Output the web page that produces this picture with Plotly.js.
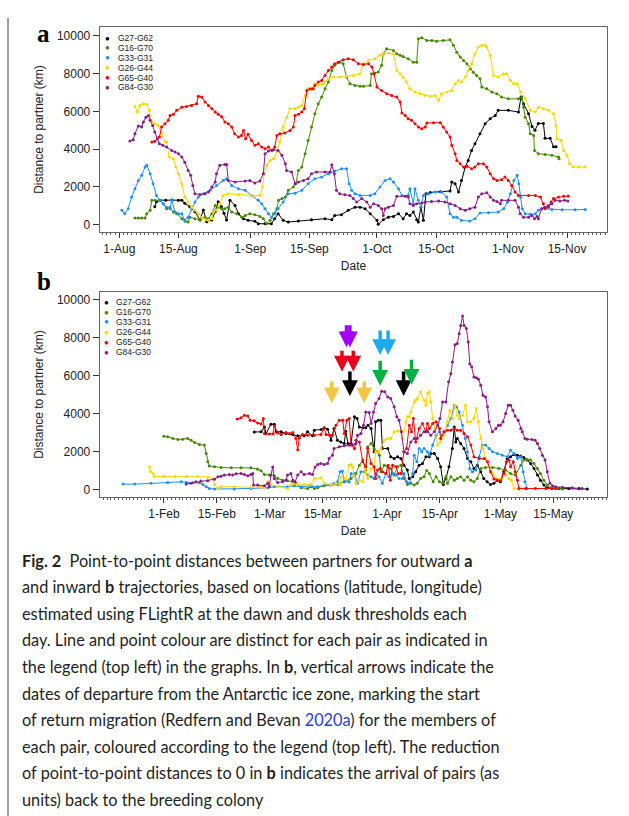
<!DOCTYPE html>
<html><head><meta charset="utf-8">
<script src="https://cdn.plot.ly/plotly-3.0.1.min.js"></script>
<style>html,body{margin:0;padding:0;background:#fff}#chart{width:629px;height:816px}</style>
</head><body><div id="chart"></div>
<script>
// ---------- legend / pairs ----------
const pairNames = ['G27-G62','G16-G70','G33-G31','G26-G44','G65-G40','G84-G30'];
const pairColors = ['#000000','#458B00','#1E90FF','#FFD700','#FF0000','#8B1A8B'];

// ---------- panel a (outward), day offsets from 1 Aug ----------
const aBlackDay = [8.4,8.8,9.6,11,12.5,14,14.8,15.5,16.7,17.9,19.1,19.9,20.7,21.9,22.7,23.4,24.2,24.8,25.4,26.2,27.4,28.2,29.4,30.5,32.1,32.9,34.5,36,36.8,37.6,38.8,40,42.4,45.5,48.7,50.3,51,52.6,54.2,55.8,57,58.2,59.4,61,61.3,62.5,63.7,64.9,66.1,67.2,68,68.8,69.6,70.4,70.8,71.4,72,72.6,73.6,76,78.3,78.7,79.5,80.3,81,81.9,82.6,83.4,84.2,85.4,86.6,87.8,89,89.7,92.1,94.5,95.1,95.7,96.9,97.7,98.4,99.2,100.4,100.8,102,102.8,103.4];
const aBlackKm  = [950,1220,1300,1300,1310,1300,1300,1130,950,690,250,780,160,250,690,1220,950,600,250,1290,1020,580,320,230,180,50,50,50,320,580,230,140,190,260,320,260,490,530,760,930,930,850,580,230,20,260,400,440,580,320,580,490,670,260,140,930,230,1640,1710,1750,1780,2260,2170,1730,2340,3050,3400,3930,4280,4810,5340,5610,5780,6050,6050,5960,6750,6400,5870,5200,5000,5360,5360,4570,4570,4130,4130];

const aGreenDay = [3.7,4.5,5.3,6.1,6.5,7.3,7.7,8.5,9.6,10.4,11.2,12,12.8,13.6,14.8,15.6,16.3,16.7,17.9,19.1,20.3,21.1,21.9,22.7,23.4,24.2,25,25.8,26.6,27.8,29,29.8,30.9,32.1,33.3,34.1,34.9,35.7,36.5,37.3,37.7,38.5,39.3,40,41.2,41.8,42.4,43.2,44,44.7,45.5,46.3,47.1,47.9,48.7,49.5,50.3,51,52.2,53,53.8,54.6,55.8,57,57.8,59.4,59.7,60.5,61.3,62.1,62.5,63.3,64.9,65.7,66.5,67.2,68.4,69.6,70.4,70.8,71.6,72.8,74,75.1,76.7,78.3,79.1,79.9,80.7,81.5,82.3,83.1,83.8,84.6,85.4,85.8,87,88.2,89.4,90.5,92.1,94.5,95.3,95.7,96.1,96.9,97.3,98.1,98.3,99.2,100.8,102.4,104,104.1];
const aGreenKm  = [350,350,350,350,580,760,1290,1290,1290,1110,850,930,670,580,320,180,140,400,320,260,400,320,580,1020,930,850,850,930,670,580,400,490,580,530,440,320,50,230,580,850,1290,1380,1460,1820,1990,2170,2870,3050,3760,4460,5170,5870,6400,6750,7190,7550,8160,8430,8600,8520,7810,7460,7370,7320,7320,7370,7990,8020,8080,8430,9040,9310,9220,9040,8960,8900,8780,8600,8600,9840,9890,9750,9750,9710,9750,9780,9490,9130,8870,8690,8520,8250,8070,7900,7720,7280,7190,7020,6930,6750,6660,6660,6750,6220,5690,5340,4810,4720,3930,3760,3720,3670,3580,3490];

const aBlueDay = [0.6,1.3,2.1,2.9,3.7,4.5,5.3,6.1,6.5,7.3,8,8.8,9.6,10.4,11.2,12,12.4,13.2,14,14.8,15.5,16.3,17.1,17.9,18.7,19.9,21.5,23,24.6,25.4,26.6,28.2,29.8,31.3,32.9,33.7,34.5,35.3,36.1,36.8,37.6,38.8,40,41.6,43.2,44.7,46.3,47.9,49.5,51,52.6,53.8,54.4,55,55.8,57,59.4,60.5,61.7,62.9,64.1,64.9,66.1,66.9,68.4,68.8,69.6,70,70.8,71.4,72,73.2,74.8,76.3,77.5,78.3,79.1,79.9,81,83,84.2,85.4,87.4,89.7,91,91.9,92.6,93.4,94.2,94.6,95,95.4,96.1,97.3,98.5,99.2,100,102.4,104.8,107.9,110.3];
const aBlueKm  = [760,580,850,1460,1900,2340,2610,3050,3140,2700,2170,1550,1290,1110,930,850,1290,670,580,580,230,400,850,1200,1460,1640,1820,2080,2340,2430,2080,1900,1820,1550,1290,1110,850,580,400,580,850,1200,1640,1670,1820,2170,2430,2520,2700,2840,2960,2960,2170,1820,1640,1550,1550,1640,1990,2340,2430,2260,1900,1550,1550,1900,1110,1900,1290,930,1550,1640,1730,1730,1460,580,400,400,230,190,320,620,630,670,850,1200,1640,2340,2610,2170,1460,850,580,550,580,760,850,810,790,790,810];

const aYellowDay = [3.7,4.3,4.9,5.7,6.5,7.1,7.7,8.4,9.2,10,10.8,11.2,11.8,12.8,13.4,14,14.8,15.5,16.3,17.1,17.9,18.7,19.5,20.3,21.1,21.9,22.3,23,23.8,24.6,25.8,28.2,31.3,33.3,33.9,34.3,34.9,35.7,36.5,37.3,38,38.8,39.6,40.4,41.6,42.4,43.2,44,44.6,45.4,46.2,47.1,48.3,49.5,50.7,52.2,53.8,55.4,57,57.8,59,60.5,61.7,62.5,63.7,64.9,65.7,66.5,67.2,68,68.8,70,71.2,72.4,73.6,74.8,75.6,76.3,77.5,78.7,79.5,80.3,81,81.9,82.6,83.4,84.2,85,85.8,86.6,87,87.8,88.6,89.7,91,91.7,92.6,93.4,94.2,95,96.1,97.3,98.5,99.2,100.4,101.6,102.8,103.4,103.6,104.6,105.2,106,106.6,107.5,108.7,110.3];
const aYellowKm  = [6260,5960,6310,6400,6360,6050,5430,5340,5250,4810,4370,4370,3580,3490,3050,2700,2170,1460,1200,930,760,580,400,260,230,320,670,760,1110,1550,1640,1590,1550,1550,1990,2700,3140,3400,3490,3840,4370,5170,5690,6140,6140,6220,6310,6840,7190,7140,7460,7370,7460,7720,7810,7810,7850,7900,7990,8520,8690,8780,8960,9040,9080,9040,8160,7990,7810,7550,7190,7020,6930,6840,6790,6840,6580,6930,7020,7100,7460,7630,7550,7810,8160,8520,9040,9400,9490,9490,9400,8960,7900,7810,7990,7990,7630,7460,7460,7020,6660,6050,5960,6220,6140,6050,5870,5250,4550,4460,3930,3670,3230,3050,3050,3050];

const aRedDay = [7.7,8.4,9.5,10,10.8,11.6,12,12.8,13.6,14.8,15.9,17.1,18.3,18.7,19.5,20.3,21.1,21.9,22.7,23.4,24.2,25,25.8,26.6,27.3,28.2,28.9,29.4,29.9,30.5,31.3,32.1,32.9,33.7,34.5,35.3,36.1,36.8,37.3,38,39.2,40.4,41.2,41.6,42.4,43.2,43.8,44.4,45.2,45.9,46.3,47.1,47.9,48.7,49.5,50.3,51,51.8,53,54.2,55.4,56.6,57.8,59,59.8,60.3,61,62.1,63.3,64.5,65.7,66.5,66.9,67.7,68.4,69.2,70,70.8,71.6,72.4,72.8,74.4,76,76.7,77.5,78.3,78.7,79.5,79.9,80.7,81.5,82.3,83.4,84.2,85,86.2,87,87.8,88.6,89.4,90.5,91.3,92.1,92.9,93.7,94.5,96.9,98.5,99.7,100.4,100.8,101.6,102.2,102.8,104,105.2,106.3];
const aRedKm  = [4370,4410,4640,5170,5340,5520,5780,5840,6050,6220,6260,6310,6400,6790,6750,6490,6310,6140,5960,5840,5730,5430,5340,5170,4810,4640,4720,4990,4550,4780,4460,4200,4280,4110,4020,4110,3930,4110,4720,4810,4850,4990,5170,5780,5840,5960,6140,7100,7190,7190,7370,7550,7630,7900,8160,8340,8520,8600,8730,8780,8730,8520,8480,8520,8340,7990,7280,7100,6930,6840,6750,6490,5910,5780,5610,5520,5340,5170,5080,5170,5380,5400,5400,5170,4900,4640,4200,3760,3400,3230,3050,3090,2960,3050,3230,3230,3050,2700,2430,2340,2380,2520,2340,2080,1730,1550,1550,1550,1460,1110,850,930,1200,1380,1460,1500,1520];

const aPurpleDay = [2.5,3.3,3.7,4.5,5.3,5.7,6.3,6.9,7.3,7.9,8.4,9,9.5,10.3,11.2,12.4,13.2,14,14.8,15.5,16.3,16.9,17.4,17.9,19.1,20.3,21.1,21.9,22.7,23,23.8,25,25.4,25.8,27.4,29.8,30.9,32.1,33.3,34.1,34.5,35.3,36.5,37.6,38.5,39.3,39.6,40.8,41.6,42.4,43.6,44.7,45.5,46.7,48.7,49.9,50.3,50.9,51.4,52.2,53.4,54.6,55.4,56.2,57.4,58.6,59.4,60.2,61.3,62.1,62.5,62.9,63.7,64.9,65.7,67.7,68.4,68.8,69.6,70.4,71.6,72.4,73.9,75.6,77.1,78.3,79.5,80.7,81.9,83,84.2,85,85.8,87,87.8,88.6,89.4,90.2,90.5,92.1,93.7,94.5,94.9,95.7,96.9,97.7,98.3,98.9,99.2,100,100.8,101.6,102.4,103.2,104.3,105.4,106.2];
const aPurpleKm  = [4430,4500,4810,5220,5170,5430,5690,5780,5520,5250,4900,4550,4280,4200,4110,3930,3840,3760,3580,3310,2870,2610,2080,1640,1600,1640,1730,1990,2260,2700,3140,3190,3190,2340,2260,2310,2340,2200,2310,2700,3760,3900,3970,3930,3670,3230,2870,2790,2170,2260,2340,2430,2700,2790,2790,2790,3170,2700,1820,1640,1590,1550,1380,1200,1380,1200,930,1110,1020,850,490,850,930,1020,1500,1500,1460,1110,1020,1110,1150,1200,1230,1250,1200,1110,1020,850,760,850,930,1460,1640,1690,1460,1290,1230,1110,1290,1290,1290,930,580,400,400,490,320,440,320,850,930,1020,1110,1290,1250,1290,1250];

// ---------- panel b (inward), day offsets from 1 Feb ----------
const bBlackDay = [23.9,25.7,26.6,27,28.3,29.2,29.7,31,32.3,34.1,35.4,37.1,38,39.3,39.8,41.6,42.4,43.3,44.2,45,45.9,46.8,47.7,48.1,48.7,49.5,50.4,51.1,51.7,52.6,53.4,54,54.8,55.6,56,56.7,57.4,57.8,59.2,60,60.9,61.8,62.7,63.5,64.4,64.9,65.8,66.6,67.5,68.4,69.3,70.2,70.6,71.5,72.4,73.2,73.9,74.6,75.4,76.3,76.8,77.2,77.6,78.5,79.4,80.3,81.2,82,82.9,83.8,84.6,85.5,86.4,87.3,88.2,89,89.9,90.8,91.7,92.6,93.5,94.4,95.2,96.1,97,97.9,98.8,99.6,100.5,101.4,102.7,104.4,107.1,109.8,112];
const bBlackKm  = [3030,3040,3300,2950,3440,3440,3040,3040,2950,2900,2830,2830,3040,2830,3130,3160,3250,3180,2600,3220,2600,2510,2420,3070,2420,2420,3830,3740,3300,3250,3250,3390,3220,1990,3570,3650,3650,2160,2160,1720,1630,1720,1630,1280,1020,580,670,930,1280,1370,1720,1720,1900,1900,1630,1200,260,580,1200,2160,3300,2510,2690,2420,2160,1630,1460,1110,1280,930,580,400,260,320,490,400,930,1630,1720,1840,1810,1760,1690,1550,1370,1110,760,490,230,90,50,50,50,50,20];

const bGreenDay = [0,1,2.4,3.7,5,6.3,7.2,8.1,9.4,10.7,11.2,11.6,12,13.4,15.1,17.8,20.4,23,24.8,25.7,26.6,27.9,29.2,30.1,31.4,32.7,34.1,35,36.3,38,38.9,39.8,40.7,42.4,44.2,46,47.7,49.5,50.8,51.7,52.6,53.4,53.9,54.8,55.6,56.5,57,57.4,58.3,59.2,60,60.9,61.8,62.7,63.5,64.4,65.3,66.2,67,67.9,68.8,69.5,70.2,71.2,72,72.9,73.7,74.6,75,75.9,76.8,77.6,78.5,79.4,80.3,81.2,82,82.9,83.8,85.1,86.9,88.6,90.4,91.7,93,94.4,95.2,96.1,97,97.9,98.8,99.6,100.5,101.4,102.3,103.6,105.4];
const bGreenKm  = [2810,2780,2690,2640,2650,2690,2600,2480,2370,2340,1900,1460,1230,1200,1160,1140,1140,1140,1070,980,790,760,720,580,490,460,400,320,90,50,140,50,90,190,230,260,400,580,840,1280,1550,1020,2250,2420,2160,1990,1810,930,1280,1200,1110,760,1200,1280,580,260,320,230,320,580,670,1000,840,400,670,400,320,670,320,670,490,580,670,490,670,490,400,580,1110,1160,1160,1110,1020,840,760,1280,1550,1580,1550,1370,1110,840,490,230,90,50,20];

const bBlueDay = [-10.8,-7.7,-3.4,1,4.6,5.9,7.7,9.4,10.3,11.2,12,13.4,18.6,23,27.5,29.2,32.7,34.5,36.3,38.9,40.7,42.4,44.2,45,45.9,46.6,47.2,47.7,49,49.5,50.4,51.2,52.1,53,53.9,54.8,55.6,56,56.9,57.8,58.7,59.5,60.5,61.4,62.2,63.1,63.5,64.2,64.9,65.8,66.2,66.9,67.5,68.2,68.8,69.7,70.2,71.1,72,72.9,73.7,74.1,75,75.9,76.8,77.4,78.1,79,79.7,80.3,80.9,81.6,82.5,83.4,84.2,85.1,86,86.9,88.2,89.5,90.8,91.7,92.6,93.5,94.4,95,95.5,96];
const bBlueKm  = [280,280,320,370,400,370,370,350,260,140,50,20,20,50,90,140,140,190,140,190,140,230,260,320,400,930,970,400,400,840,840,320,930,930,760,670,580,840,670,320,840,670,840,760,580,580,840,400,320,840,1810,1460,2160,1990,2160,1990,1810,2340,2860,3040,2860,3040,3390,3740,4450,4360,4090,3390,2690,1990,1110,930,1020,1720,2340,2340,2160,1990,1900,1810,1720,2070,1900,1630,1720,930,400,50];

const bYellowDay = [-3.8,-3.5,-2.9,-2.5,0,3,6,9,11.6,12.9,13.4,14.3,15.1,18.6,23,25.7,26.6,27.5,28.3,30.5,32.7,33.6,35.4,37.1,38.9,39.8,41.5,42.4,44.2,45.5,46.6,46.8,48.1,49,49.5,49.9,50.8,51.7,52.6,53.2,53.9,54.8,55.6,56,56.9,57.4,58.3,59.2,60,60.9,61.8,62.7,63.1,64,64.4,64.9,65.3,66.2,66.6,67,67.9,68.8,69.3,69.7,70.2,70.6,71.1,71.7,72.4,73.2,74.1,75,75.6,76.3,77,77.6,78.1,79,79.8,80.3,81.2,82,82.6,83.2,83.8,84.4,85.1,85.9,86.9,87.8,88.6,89.5,90.4,91.3,91.9,92.6,93.9];
const bYellowKm  = [1180,950,830,680,680,680,680,680,660,560,250,70,140,140,110,140,70,420,230,160,35,250,300,260,260,580,610,320,260,320,230,670,580,1280,1320,1190,320,490,400,1110,580,1110,1190,1990,1990,2160,2600,2690,2690,3040,3070,3130,2690,3570,3830,3830,4090,4620,4710,4800,5150,4710,4450,5060,5150,4620,3740,3220,2340,2510,2860,3570,4180,3740,4450,3920,3740,3920,4450,3570,3570,3740,4270,3570,2690,2160,1630,1190,840,580,530,580,790,580,490,50,20];

const bRedDay = [19.4,20.4,21.3,22.2,22.8,23.9,24.8,25.7,26.3,26.6,27.9,28.9,29.2,30.1,31,32.3,33.2,34.1,34.9,35.4,35.8,36.7,38,39.8,41.5,42.4,42.9,43.9,44.6,45.5,46.4,47.3,47.7,48.4,49,49.5,50.4,50.8,51.7,52.6,53.4,53.9,54.8,55.6,56,56.5,57.2,57.8,58.7,59.3,59.9,60.5,61.4,62,62.7,63.5,64.2,64.9,65.5,66,66.6,67.5,68.4,69.3,69.7,70.2,71.1,72,72.9,73.2,74.1,75,75.9,76.8,77.6,78.5,79.4,80.3,81.2,82,83.4,84.7,85.6,86.4,87.3,88.2,89,89.9,90.6,91.3,91.7,92.4,92.9,93.5,93.9,95.7,98.3,101,103.6];
const bRedKm  = [3720,3780,3910,3870,3650,3620,3500,3460,3740,2950,2920,2940,3350,2980,2900,3000,2950,3000,2690,2090,2710,2900,2860,2860,2900,3220,2900,2860,2860,3390,3650,3650,2950,3650,3740,2340,2160,2600,2510,1460,1200,2160,1370,1200,580,1020,1110,930,840,1280,490,1280,1200,840,840,1990,2160,3390,3040,3740,2510,3220,3480,3040,3480,3220,3480,3570,3220,2690,3040,3130,3130,3220,3130,3130,2950,2780,2340,1720,1630,1630,1460,930,550,490,460,840,1460,1550,1200,1460,930,490,50,50,50,50,50];

const bPurpleDay = [5.9,7.2,8.5,9.8,11.6,13.4,14.3,15.1,16,17.3,18.2,19.1,20.4,21.3,22.2,23,23.5,23.7,24.8,26.6,27.5,27.9,28.3,28.8,29.2,30.1,31.4,32.3,32.7,33.6,34.1,34.7,35.4,36.3,37.1,38.5,39.3,40,40.7,41.5,42.4,43.3,43.7,44.6,45,46.4,47.7,49,49.9,50.8,51.2,52.1,52.8,53.4,54.3,54.8,55.4,56,56.9,57.6,58.4,59.2,60,60.9,61.6,62.2,62.8,63.5,64.4,65.3,66.2,67,67.9,68.8,69.7,70.6,71.5,72.4,73,73.7,74.6,75.3,75.9,76.3,77,77.6,78.1,78.5,79,79.4,80,80.5,80.9,81.4,82,82.6,83.2,83.8,84.4,85.1,85.6,86,86.9,87.8,88.5,89,89.7,90.4,91.1,91.7,92.3,92.9,93.7,94.4,94.8,95.5,96.1,97.3,98.2,98.8,99.4,100.1,100.8,101.4,102.1,102.8,103.6,105.4,108,110.6];
const bPurpleKm  = [280,320,400,440,460,540,670,700,760,790,760,830,840,790,720,790,840,230,230,190,320,140,760,1190,580,370,400,490,760,840,490,400,760,930,790,840,790,1190,1320,1370,1320,1370,1630,1810,2160,2250,2300,2340,2340,2420,2860,2950,3390,4090,4060,3480,4090,4530,4800,5180,5150,4880,4800,4360,3830,3650,3040,1990,1900,2510,2690,2690,2860,3040,3070,2860,3040,3390,3740,4620,4620,5680,6110,6730,7640,7700,8220,8660,9150,8660,8490,7780,6640,6470,5940,5890,5820,5500,4970,4880,4360,3570,3040,3220,3390,3390,3570,4010,4450,4450,4180,3880,3650,3220,3040,2690,2650,2640,2600,2420,2160,1810,1550,930,320,190,140,110,90,50];

// ---------- departure arrows in panel b ----------
const arrowDay   = [44.4,47.1,48.3,49.2,49.2,50.1,53.0,57.2,57.2,59.3,63.4,65.5];
const arrowColor = ['#F2C744','#E8001C','#A500FF','#A500FF','#000000','#E8001C','#F2C744','#00B040','#1EAAF0','#1EAAF0','#000000','#00B040'];
const arrowTipKm = [4550,6220,7510,7510,4930,6220,4550,5470,7100,7100,4930,5520];
const arrowTopKm = [5780,7400,8740,8740,6310,7400,5780,6870,8470,8470,6310,6920];

const aTickLabels = ['1-Aug','15-Aug','1-Sep','15-Sep','1-Oct','15-Oct','1-Nov','15-Nov'];
const aTickDays   = [0,14,31,45,61,75,92,106];
const bTickLabels = ['1-Feb','15-Feb','1-Mar','15-Mar','1-Apr','15-Apr','1-May','15-May'];
const bTickDays   = [0,14,28,42,59,73,89,103];
const yTicks = [0,2000,4000,6000,8000,10000];
const yTickLabels = ['0','2000','4000','6000','8000','10000'];

// ---------- helpers ----------
const DAY = 86400000;
const baseA = Date.UTC(2018,7,1), baseB = Date.UTC(2019,1,1);
function toDate(base, d){ return new Date(base + d*DAY).toISOString().slice(0,19).replace('T',' '); }
const FONT = 'Liberation Sans, Arial, sans-serif';
const W = 629, H = 816;
const px = v => v / W, py = v => 1 - v / H;

const aSeries = [[aBlackDay,aBlackKm],[aGreenDay,aGreenKm],[aBlueDay,aBlueKm],[aYellowDay,aYellowKm],[aRedDay,aRedKm],[aPurpleDay,aPurpleKm]];
const bSeries = [[bBlackDay,bBlackKm],[bGreenDay,bGreenKm],[bBlueDay,bBlueKm],[bYellowDay,bYellowKm],[bRedDay,bRedKm],[bPurpleDay,bPurpleKm]];

const traces = [];
aSeries.forEach((s,i)=>traces.push({type:'scatter',mode:'lines+markers',x:s[0].map(d=>toDate(baseA,d)),y:s[1],xaxis:'x',yaxis:'y',
  line:{color:pairColors[i],width:1},marker:{color:pairColors[i],size:3},showlegend:false,hoverinfo:'skip'}));
bSeries.forEach((s,i)=>traces.push({type:'scatter',mode:'lines+markers',x:s[0].map(d=>toDate(baseB,d)),y:s[1],xaxis:'x2',yaxis:'y2',
  line:{color:pairColors[i],width:1},marker:{color:pairColors[i],size:3},showlegend:false,hoverinfo:'skip'}));

function xAxis(base, ticks, labels, lo, hi, anchor){
  return {type:'date',domain:[px(100),px(607)],anchor:anchor,range:[toDate(base,lo),toDate(base,hi)],
    tickmode:'array',tickvals:ticks.map(d=>toDate(base,d)),ticktext:labels,ticks:'outside',ticklen:5,tickcolor:'#333',
    tickfont:{family:FONT,size:12,color:'#222'},showline:true,mirror:true,linecolor:'#666',linewidth:1.3,
    showgrid:false,zeroline:false,
    minor:{dtick:DAY,tick0:toDate(base,0),ticks:'outside',ticklen:2,tickcolor:'#555',showgrid:false},
    title:{text:'Date',font:{family:FONT,size:12,color:'#222'},standoff:7}};
}
function yAxis(dom, lo, hi, anchor){
  return {domain:dom,anchor:anchor,range:[lo,hi],tickmode:'array',tickvals:yTicks,ticktext:yTickLabels,ticks:'outside',ticklen:6,tickcolor:'#333',
    tickfont:{family:FONT,size:12,color:'#222'},showline:true,mirror:true,linecolor:'#666',linewidth:1.3,
    showgrid:false,zeroline:false,title:{text:'Distance to partner (km)',font:{family:FONT,size:12,color:'#222'},standoff:10}};
}

const annotations = [];
// panel letters
annotations.push({xref:'paper',yref:'paper',x:px(35),y:py(49),yanchor:'bottom',xanchor:'left',text:'<b>a</b>',showarrow:false,font:{family:'Liberation Serif, serif',size:25,color:'#000'}});
annotations.push({xref:'paper',yref:'paper',x:px(35),y:py(281),text:'<b>b</b>',xanchor:'left',showarrow:false,font:{family:'Liberation Serif, serif',size:25,color:'#000'}});
// legends
[[38,9.9,107,116],[302,10,106,114]].forEach(L=>{
  pairNames.forEach((n,i)=>{
    const y = L[0] + i*L[1];
    annotations.push({xref:'paper',yref:'paper',x:px(L[2]),y:py(y),text:'●',showarrow:false,xanchor:'center',yanchor:'middle',font:{family:FONT,size:8,color:pairColors[i]}});
    annotations.push({xref:'paper',yref:'paper',x:px(L[3]),y:py(y),text:n,showarrow:false,xanchor:'left',yanchor:'middle',font:{family:FONT,size:8.5,color:'#222'}});
  });
});
// arrows
arrowDay.forEach((d,i)=>{
  annotations.push({xref:'x2',yref:'y2',axref:'x2',ayref:'y2',x:toDate(baseB,d),y:arrowTipKm[i],ax:toDate(baseB,d),ay:arrowTopKm[i],
    text:'',showarrow:true,arrowhead:2,arrowsize:0.9,arrowwidth:3.5,arrowcolor:arrowColor[i],standoff:0,startstandoff:0});
});
// caption
const captionLines = [
  '<b>Fig. 2</b>\u00a0\u00a0Point-to-point distances between partners for outward <b>a</b>',
  'and inward <b>b</b> trajectories, based on locations (latitude, longitude)',
  'estimated using FLightR at the dawn and dusk thresholds each',
  'day. Line and point colour are distinct for each pair as indicated in',
  'the legend (top left) in the graphs. In <b>b</b>, vertical arrows indicate the',
  'dates of departure from the Antarctic ice zone, marking the start',
  'of return migration (Redfern and Bevan <span style="color:#2a3fd8">2020a</span>) for the members of',
  'each pair, coloured according to the legend (top left). The reduction',
  'of point-to-point distances to 0 in <b>b</b> indicates the arrival of pairs (as',
  'units) back to the breeding colony'
];
captionLines.forEach((t,i)=>{
  annotations.push({xref:'paper',yref:'paper',x:px(20),y:py(560 + i*26.6),text:t,showarrow:false,xanchor:'left',yanchor:'middle',align:'left',
    font:{family:'Lato, sans-serif',size:16.3,color:'#231f20'}});
});

const layout = {
  width:W,height:H,margin:{l:0,r:0,t:0,b:0},paper_bgcolor:'#fff',plot_bgcolor:'#fff',showlegend:false,
  xaxis: xAxis(baseA,aTickDays,aTickLabels,-4.57,115.46,'y'),
  yaxis: yAxis([py(232),py(27)],-386,10460,'x'),
  xaxis2: xAxis(baseB,bTickDays,bTickLabels,-16.9,117.2,'y2'),
  yaxis2: yAxis([py(497),py(292)],-400,10422,'x2'),
  annotations: annotations,
  shapes:[{type:'line',xref:'paper',yref:'paper',x0:px(8),x1:px(8),y0:0,y1:py(18),line:{color:'#444',width:1}}]
};
Plotly.newPlot('chart',traces,layout,{staticPlot:true,displayModeBar:false});
</script></body></html>
